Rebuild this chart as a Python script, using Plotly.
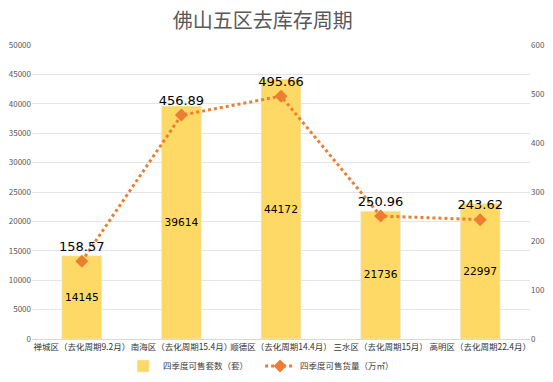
import plotly.graph_objects as go

categories = ["禅城区（去化周期9.2月）", "南海区（去化周期15.4月）", "顺德区（去化周期14.4月）",
              "三水区（去化周期15月）", "高明区（去化周期22.4月）"]
units = [14145, 39614, 44172, 21736, 22997]
area = [158.57, 456.89, 495.66, 250.96, 243.62]
bar_name = "四季度可售套数（套）"
line_name = "四季度可售货量（万㎡）"

fig = go.Figure()
fig.add_trace(go.Bar(
    x=categories, y=units, name=bar_name,
    marker=dict(color="#FFD966"), width=0.4,
    text=[str(v) for v in units], textposition="inside", insidetextanchor="middle",
    textangle=0,
    textfont=dict(size=11, color="#000000", family="DejaVu Sans"),
    yaxis="y",
))
fig.add_trace(go.Scatter(
    x=categories, y=area, name=line_name, mode="lines+markers+text",
    line=dict(color="#ED7D31", width=3, dash="dot"),
    marker=dict(symbol="diamond", size=10, color="#ED7D31"),
    text=[f"{v:.2f}" for v in area], textposition="top center",
    textfont=dict(size=13, color="#000000", family="DejaVu Sans"),
    yaxis="y2", cliponaxis=False,
))

fig.update_layout(
    width=553, height=382,
    margin=dict(l=32, r=23, t=45, b=43, autoexpand=False),
    paper_bgcolor="white", plot_bgcolor="white",
    title=dict(text="佛山五区去库存周期", x=0.475, xanchor="center", y=0.945, yanchor="middle",
               font=dict(size=20, color="#595959", family="Noto Sans CJK SC")),
    font=dict(family="Noto Sans CJK SC", color="#595959"),
    bargap=0.6,
    xaxis=dict(tickfont=dict(size=8.5, color="#333333"), showline=True, linecolor="#D9D9D9",
               ticks="", showgrid=False, tickangle=0, automargin=False),
    yaxis=dict(range=[0, 50000], dtick=5000, showgrid=True, gridcolor="#E5E5E5",
               tickformat="d", tickfont=dict(size=8, color="#595959"), zeroline=False,
               ticks="", automargin=False),
    yaxis2=dict(range=[0, 600], dtick=100, overlaying="y", side="right", showgrid=False,
                tickfont=dict(size=8, color="#595959"), zeroline=False, ticks="",
                automargin=False),
    legend=dict(orientation="h", x=0.458, xanchor="center", y=-0.092, yanchor="middle",
                font=dict(size=8.5, color="#404040"), entrywidth=92, itemwidth=30),
    showlegend=True,
)
fig.write_html("out.html", post_script="document.body.style.margin='0';",
               config={"displayModeBar": False})
